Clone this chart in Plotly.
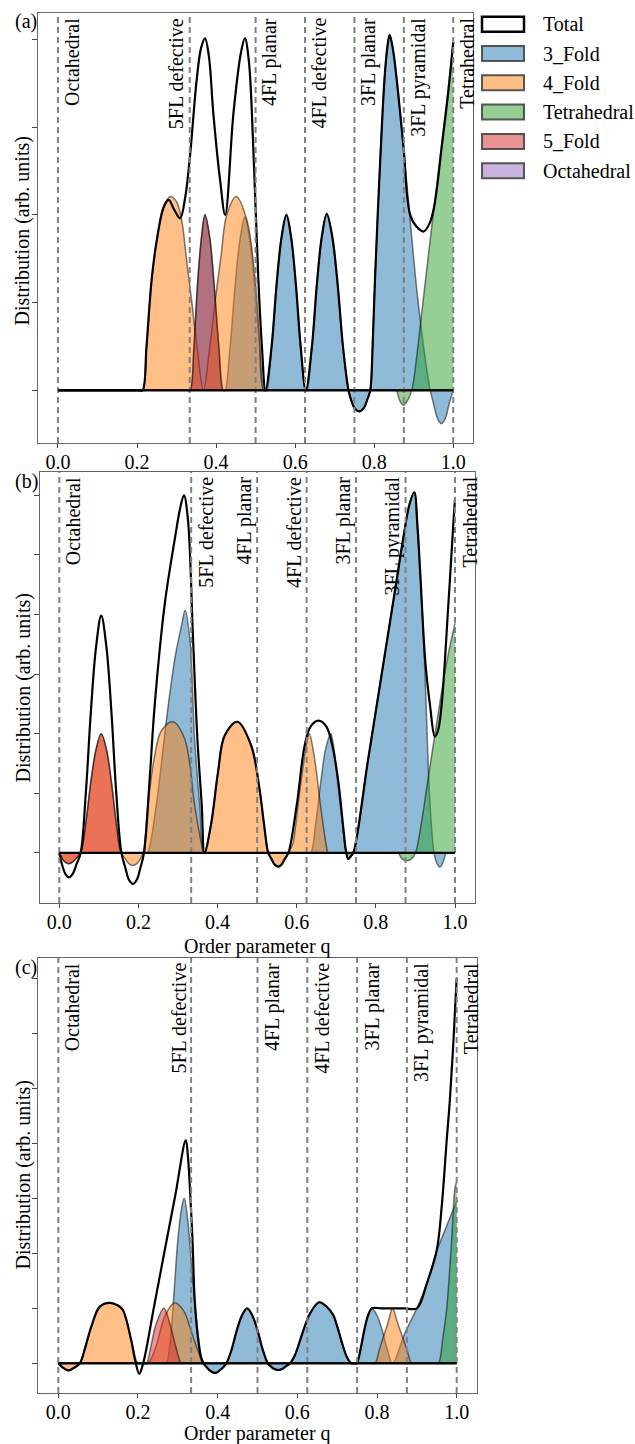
import plotly.graph_objects as go

W, H = 635, 1444
FONT = "Liberation Serif, Times New Roman, serif"

# ------------------------------------------------------------------ data
x_ticks = [0.0, 0.2, 0.4, 0.6, 0.8, 1.0]
x_tick_labels = ["0.0", "0.2", "0.4", "0.6", "0.8", "1.0"]
region_q = [0.0, 1 / 3, 0.5, 0.625, 0.75, 0.875, 1.0]
region_labels = ["Octahedral", "5FL defective", "4FL planar", "4FL defective",
                 "3FL planar", "3FL pyramidal", "Tetrahedral"]
region_side_a = ["r", "l", "r", "r", "r", "r", "r"]
region_side_b = ["r", "r", "l", "l", "l", "l", "r"]
region_side_c = ["r", "l", "r", "r", "r", "r", "r"]

series_names = ["3_Fold", "4_Fold", "Tetrahedral", "5_Fold", "Octahedral"]
legend_names = ["Total", "3_Fold", "4_Fold", "Tetrahedral", "5_Fold", "Octahedral"]
series_colors = ["#1f77b4", "#ff7f0e", "#2ca02c", "#d62728", "#9467bd"]

# ---------------- panel (a)
a_q_total = [0.0, 0.205, 0.214, 0.224, 0.237, 0.250, 0.267, 0.280, 0.295, 0.309,
             0.322, 0.334, 0.351, 0.362, 0.372, 0.382, 0.393, 0.410, 0.423, 0.444,
             0.463, 0.473, 0.483, 0.494, 0.507, 0.516, 0.525,
             0.5405, 0.553, 0.5655, 0.578, 0.590, 0.602, 0.614, 0.627,
             0.6425, 0.655, 0.6675, 0.680, 0.694, 0.7075, 0.721, 0.735,
             0.741, 0.750, 0.762, 0.774, 0.783, 0.790,
             0.796, 0.802, 0.813, 0.826, 0.833, 0.839, 0.847, 0.857, 0.874, 0.891,
             0.908, 0.925, 0.940, 0.952, 0.971, 0.988, 1.0]
a_total = [0, 0, 0, 0.5, 1.26, 1.71, 2.08, 2.17, 2.05, 1.96,
           2.2, 2.67, 3.54, 3.9, 4.01, 3.8, 3.16, 2.4, 2.0, 3.16,
           3.85, 4.01, 3.75, 2.78, 1.26, 0.5, 0,
           0.5, 1.2, 1.74, 2.0, 1.74, 1.2, 0.5, 0,
           0.5, 1.21, 1.75, 2.01, 1.75, 1.21, 0.5, 0,
           -0.1, -0.2, -0.24, -0.2, -0.1, 0,
           0.5, 1.26, 2.4, 3.54, 3.9, 4.05, 3.9, 3.54, 2.78, 2.0,
           1.86, 1.81, 1.9, 2.1, 2.78, 3.42, 3.97]
a_q_3fold = [0.0, 0.326,
             0.334, 0.344, 0.353, 0.363, 0.372, 0.384, 0.395, 0.407, 0.418, 0.420,
             0.423, 0.4355, 0.448, 0.4605, 0.473, 0.485, 0.4975, 0.510, 0.522, 0.525,
             0.528, 0.5405, 0.553, 0.5655, 0.578, 0.590, 0.602, 0.614, 0.626, 0.628,
             0.630, 0.6425, 0.655, 0.6675, 0.680, 0.694, 0.7075, 0.721, 0.735,
             0.741, 0.750, 0.762, 0.774, 0.783, 0.790,
             0.796, 0.802, 0.813, 0.826, 0.833, 0.839, 0.847, 0.857, 0.874, 0.891,
             0.908, 0.925, 0.935, 0.942,
             0.950, 0.960, 0.970, 0.980, 0.990, 1.0]
a_3fold = [0, 0,
           0, 0.5, 1.2, 1.74, 2.0, 1.74, 1.2, 0.5, 0, 0,
           0, 0.5, 1.19, 1.72, 1.98, 1.72, 1.19, 0.5, 0, 0,
           0, 0.5, 1.2, 1.74, 2.0, 1.74, 1.2, 0.5, 0, 0,
           0, 0.5, 1.21, 1.75, 2.01, 1.75, 1.21, 0.5, 0,
           -0.1, -0.2, -0.24, -0.2, -0.1, 0,
           0.5, 1.26, 2.4, 3.54, 3.9, 4.05, 3.9, 3.54, 2.78, 1.94,
           1.14, 0.5, 0.18, 0,
           -0.15, -0.32, -0.38, -0.32, -0.15, 0]
a_q_4fold = [0.0, 0.205, 0.214, 0.224, 0.237, 0.250, 0.267, 0.285, 0.300, 0.313,
             0.325, 0.338, 0.353, 0.368, 0.383, 0.398, 0.413, 0.427, 0.451, 0.478,
             0.499, 0.510, 0.520, 0.530, 1.0]
a_4fold = [0, 0, 0, 0.5, 1.26, 1.71, 2.1, 2.21, 2.15, 1.94,
           1.5, 1.03, 0.45, 0, 0.45, 1.03, 1.55, 2.0, 2.21, 1.94,
           1.26, 0.6, 0, 0, 0]
a_q_tetra = [0.0, 0.845, 0.855, 0.865, 0.874, 0.884, 0.895, 0.908, 0.922, 0.944,
             0.967, 0.988, 1.0]
a_tetra = [0, 0, 0, -0.12, -0.17, -0.12, 0, 0.4, 0.95, 1.8,
           2.66, 3.46, 3.97]
a_q_5fold = [0.0, 0.326, 0.334, 0.344, 0.353, 0.363, 0.372, 0.384, 0.395, 0.407,
             0.418, 0.425, 1.0]
a_5fold = [0, 0, 0, 0.5, 1.2, 1.74, 2.0, 1.74, 1.2, 0.5,
           0, 0, 0]
a_q_octa = [0.0, 1.0]
a_octa = [0, 0]

# ---------------- panel (b)
b_q_total = [0.0, 0.008, 0.016, 0.024, 0.034, 0.044, 0.054,
             0.067, 0.080, 0.093, 0.106, 0.119, 0.1315, 0.144, 0.157,
             0.167, 0.176, 0.186, 0.196, 0.205, 0.214,
             0.228, 0.241, 0.266, 0.292, 0.306, 0.315, 0.325, 0.338, 0.349, 0.360, 0.367,
             0.384, 0.401, 0.418, 0.450, 0.485, 0.506, 0.518, 0.528,
             0.536, 0.545, 0.553, 0.561, 0.570, 0.579,
             0.600, 0.620, 0.635, 0.655, 0.675, 0.690, 0.705, 0.718, 0.724, 0.730, 0.737, 0.743,
             0.780, 0.820, 0.850, 0.869, 0.885, 0.897, 0.905, 0.912, 0.925, 0.937,
             0.949, 0.957, 0.966, 0.983, 0.996, 1.0]
b_total = [0, -0.22, -0.36, -0.41, -0.35, -0.18, 0,
           1.0, 2.39, 3.46, 3.98, 3.46, 2.39, 1.0, 0,
           -0.25, -0.45, -0.52, -0.45, -0.25, 0,
           1.2, 2.47, 4.15, 5.27, 5.8, 6.0, 5.6, 3.59, 1.91, 0.8, 0,
           0.5, 1.35, 1.97, 2.2, 1.8, 1.07, 0.45, 0,
           -0.1, -0.2, -0.23, -0.2, -0.1, 0,
           0.8, 1.8, 2.12, 2.22, 2.12, 1.8, 1.2, 0.4, 0.05, -0.1, -0.05, 0,
           1.55, 3.22, 4.47, 5.27, 5.85, 6.05, 5.5, 4.71, 3.2, 2.47,
           1.95, 2.05, 2.47, 4.15, 5.55, 5.94]
b_q_3fold = [0.0, 0.215, 0.222, 0.245, 0.258, 0.270, 0.292, 0.309, 0.318, 0.330,
             0.342, 0.355, 0.366, 0.375,
             0.625, 0.635, 0.648, 0.661, 0.673, 0.686, 0.694, 0.701, 0.710, 0.718,
             0.724, 0.730, 0.737, 0.743,
             0.780, 0.820, 0.850, 0.869, 0.885, 0.897, 0.905, 0.912, 0.924, 0.933,
             0.940, 0.947,
             0.954, 0.962, 0.970, 0.979, 0.988, 1.0]
b_3fold = [0, 0, 0, 0.8, 1.5, 2.19, 3.26, 3.82, 4.07, 3.59,
           1.91, 0.8, 0, 0,
           0, 0, 0.5, 1.2, 1.74, 2.0, 1.75, 1.35, 0.8, 0.35,
           0.05, -0.1, -0.05, 0,
           1.55, 3.22, 4.47, 5.27, 5.85, 6.05, 5.4, 4.71, 3.03, 1.35,
           0.5, 0,
           -0.17, -0.24, -0.15, 0, 0, 0]
b_q_4fold = [0.0, 0.008, 0.016, 0.024, 0.034, 0.044, 0.054,
             0.067, 0.080, 0.093, 0.106, 0.119, 0.1315, 0.144, 0.157,
             0.167, 0.176, 0.186, 0.196, 0.205, 0.212,
             0.224, 0.241, 0.258, 0.287, 0.317, 0.342, 0.355, 0.366,
             0.384, 0.401, 0.418, 0.450, 0.485, 0.506, 0.518, 0.528,
             0.536, 0.545, 0.553, 0.561, 0.570, 0.579,
             0.590, 0.598, 0.607, 0.615, 0.624, 0.632, 0.641, 0.650, 0.659, 0.667,
             0.674, 0.680, 0.690, 1.0]
b_4fold = [0, -0.1, -0.16, -0.18, -0.15, -0.08, 0,
           0.5, 1.2, 1.74, 2.0, 1.74, 1.2, 0.5, 0,
           -0.1, -0.18, -0.21, -0.18, -0.1, 0,
           0.8, 1.63, 2.05, 2.2, 1.91, 0.8, 0.3, 0,
           0.5, 1.35, 1.97, 2.2, 1.8, 1.07, 0.45, 0,
           -0.1, -0.2, -0.23, -0.2, -0.1, 0,
           0.15, 0.5, 1.0, 1.4, 1.8, 2.0, 1.75, 1.35, 0.85, 0.46,
           0.15, 0, 0, 0]
b_q_tetra = [0.0, 0.846, 0.856, 0.866, 0.878, 0.890, 0.900, 0.915, 0.928, 0.954,
             0.979, 1.0]
b_tetra = [0, 0, 0, -0.1, -0.13, -0.1, 0, 0.5, 1.07, 2.19,
           3.2, 3.85]
b_q_5fold = [0.0, 0.008, 0.016, 0.024, 0.034, 0.044, 0.054,
             0.067, 0.080, 0.093, 0.106, 0.119, 0.1315, 0.144, 0.157, 0.167, 1.0]
b_5fold = [0, -0.1, -0.16, -0.18, -0.15, -0.08, 0,
           0.5, 1.2, 1.74, 2.0, 1.74, 1.2, 0.5, 0, 0, 0]
b_q_octa = [0.0, 1.0]
b_octa = [0, 0]

# ---------------- panel (c)
c_q_total = [0.0, 0.010, 0.026, 0.040, 0.054, 0.068, 0.083, 0.104, 0.129, 0.150,
             0.162, 0.183, 0.193, 0.203, 0.213, 0.240, 0.267, 0.294, 0.320, 0.326,
             0.331, 0.337, 0.342, 0.350, 0.358, 0.365,
             0.372, 0.380, 0.389, 0.397, 0.405, 0.414, 0.422,
             0.435, 0.448, 0.461, 0.474, 0.487, 0.500, 0.513, 0.526,
             0.534, 0.541, 0.549, 0.556, 0.563, 0.570, 0.582,
             0.594, 0.607, 0.620, 0.632, 0.655, 0.675, 0.690, 0.701, 0.711, 0.724,
             0.736, 0.743, 0.749,
             0.7585, 0.768, 0.7775, 0.787, 0.810, 0.840, 0.870, 0.900,
             0.925, 0.950, 0.963, 0.975, 0.983, 0.992, 1.0]
c_total = [0, -0.07, -0.13, -0.08, 0, 0.3, 0.67, 1.03, 1.10, 1.05,
           0.97, 0.42, 0.05, -0.19, 0, 1.02, 2.05, 3.07, 4.06, 3.7,
           3.1, 2.2, 1.2, 0.5, 0.12, 0,
           -0.07, -0.13, -0.17, -0.17, -0.13, -0.07, 0,
           0.25, 0.6, 0.87, 1.0, 0.87, 0.6, 0.25, 0,
           -0.06, -0.1, -0.12, -0.12, -0.1, -0.06, 0,
           0.15, 0.42, 0.7, 0.91, 1.11, 1.02, 0.88, 0.65, 0.4, 0.12,
           0, 0, 0,
           0.25, 0.6, 0.87, 1.0, 1.0, 1.0, 1.0, 1.0,
           1.45, 2.06, 2.9, 4.06, 4.8, 5.88, 7.0]
c_q_3fold = [0.0, 0.262, 0.271, 0.280, 0.288, 0.300, 0.309, 0.316, 0.325, 0.333,
             0.342, 0.353, 0.363,
             0.372, 0.380, 0.389, 0.397, 0.405, 0.414, 0.422,
             0.435, 0.448, 0.461, 0.474, 0.487, 0.500, 0.513, 0.526,
             0.534, 0.541, 0.549, 0.556, 0.563, 0.570, 0.582,
             0.594, 0.607, 0.620, 0.632, 0.655, 0.675, 0.690, 0.701, 0.711, 0.724,
             0.736, 0.743, 0.749,
             0.7585, 0.768, 0.7775, 0.787, 0.800, 0.813, 0.826, 0.839,
             0.870, 0.900, 0.925, 0.950, 0.975, 1.0]
c_3fold = [0, 0, 0, 0.35, 1.03, 2.24, 2.8, 3.0, 2.6, 1.9,
           1.15, 0.4, 0,
           -0.07, -0.13, -0.17, -0.17, -0.13, -0.07, 0,
           0.25, 0.6, 0.87, 1.0, 0.87, 0.6, 0.25, 0,
           -0.06, -0.1, -0.12, -0.12, -0.1, -0.06, 0,
           0.15, 0.42, 0.7, 0.91, 1.11, 1.02, 0.88, 0.65, 0.4, 0.12,
           0, 0, 0,
           0.25, 0.6, 0.87, 1.0, 0.87, 0.6, 0.25, 0,
           0.55, 1.0, 1.45, 2.04, 2.5, 2.95]
c_q_4fold = [0.0, 0.010, 0.026, 0.040, 0.054, 0.068, 0.083, 0.104, 0.129, 0.150,
             0.162, 0.183, 0.200, 0.212, 0.225, 0.245, 0.267, 0.292, 0.315, 0.335,
             0.352, 0.363, 0.372, 0.785, 0.795, 0.806, 0.817, 0.828, 0.839, 0.851,
             0.863, 0.875, 0.887, 0.897, 1.0]
c_4fold = [0, -0.07, -0.13, -0.08, 0, 0.3, 0.67, 1.03, 1.10, 1.05,
           0.97, 0.42, 0, 0, 0, 0.3, 0.85, 1.10, 0.95, 0.55,
           0.2, 0, 0, 0, 0, 0.25, 0.5, 0.75, 1.0, 0.75,
           0.5, 0.25, 0, 0, 0]
c_q_tetra = [0.0, 0.944, 0.954, 0.965, 0.975, 0.987, 0.996, 1.0]
c_tetra = [0, 0, 0, 0.45, 1.0, 2.2, 3.2, 3.3]
c_q_5fold = [0.0, 0.212, 0.221, 0.232, 0.245, 0.265, 0.280, 0.295, 0.309, 0.318, 1.0]
c_5fold = [0, 0, 0, 0.3, 0.7, 1.0, 0.72, 0.3, 0, 0, 0]
c_q_octa = [0.0, 1.0]
c_octa = [0, 0]

# y-axis tick positions and ranges (arb. units)
a_yticks = [0, 1, 2, 3, 4]
b_yticks = [0, 1, 2, 3, 4, 5, 6]
c_yticks = [0, 1, 2, 3, 4, 5, 6, 7]
a_yrange = [-0.60, 4.30]
b_yrange = [-0.84, 6.39]
c_yrange = [-0.54, 7.37]

# ------------------------------------------------------------------ layout geometry (pixels)
panels = [
    dict(tag="(a)", box=(38.2, 473.0, 13, 443), xtitle=None, yr=a_yrange, yt=a_yticks,
         side=region_side_a, ytc=231,
         total=(a_q_total, a_total),
         series=[(a_q_3fold, a_3fold), (a_q_4fold, a_4fold), (a_q_tetra, a_tetra),
                 (a_q_5fold, a_5fold), (a_q_octa, a_octa)]),
    dict(tag="(b)", box=(39.5, 474.8, 472, 903), xtitle=946, yr=b_yrange, yt=b_yticks,
         side=region_side_b, ytc=688,
         total=(b_q_total, b_total),
         series=[(b_q_3fold, b_3fold), (b_q_4fold, b_4fold), (b_q_tetra, b_tetra),
                 (b_q_5fold, b_5fold), (b_q_octa, b_octa)]),
    dict(tag="(c)", box=(38.4, 476.6, 958, 1393), xtitle=1433, yr=c_yrange, yt=c_yticks,
         side=region_side_c, ytc=1175,
         total=(c_q_total, c_total),
         series=[(c_q_3fold, c_3fold), (c_q_4fold, c_4fold), (c_q_tetra, c_tetra),
                 (c_q_5fold, c_5fold), (c_q_octa, c_octa)]),
]

for p in panels:
    for q, v in [p["total"]] + p["series"]:
        assert len(q) == len(v), (p["tag"], len(q), len(v))


def px_x(px):
    return px / W


def px_y(py):
    return 1 - py / H


def rgba(hexc, a):
    h = hexc.lstrip("#")
    r, g, b = int(h[0:2], 16), int(h[2:4], 16), int(h[4:6], 16)
    return f"rgba({r},{g},{b},{a})"


EDGE = "rgba(0,0,0,0.5)"
fig = go.Figure()
shapes = []
annotations = []
layout_axes = {}

for i, p in enumerate(panels):
    n = "" if i == 0 else str(i + 1)
    xa, ya = "x" + n, "y" + n
    x0, x1, top, bot = p["box"]
    for (q, v), col, nm in zip(p["series"], series_colors, series_names):
        fig.add_trace(go.Scatter(
            x=q, y=v, mode="lines", xaxis=xa, yaxis=ya, name=nm,
            line=dict(shape="spline", smoothing=1.0, color=EDGE, width=1.5),
            fill="tozeroy", fillcolor=rgba(col, 0.5),
            showlegend=False, hoverinfo="skip"))
    tq, tv = p["total"]
    fig.add_trace(go.Scatter(
        x=tq, y=tv, mode="lines", xaxis=xa, yaxis=ya, name="Total",
        line=dict(shape="spline", smoothing=1.0, color="black", width=2.2),
        showlegend=False, hoverinfo="skip"))

    layout_axes["xaxis" + n] = dict(
        domain=[px_x(x0), px_x(x1)], range=[-0.05, 1.05], anchor=ya,
        tickmode="array", tickvals=x_ticks, ticktext=x_tick_labels,
        ticks="outside", ticklen=4, tickwidth=1, tickcolor="#444",
        ticklabelstandoff=-3,
        showline=True, mirror=True, linecolor="#666", linewidth=1,
        showgrid=False, zeroline=False,
        tickfont=dict(family=FONT, size=20, color="black"))
    layout_axes["yaxis" + n] = dict(
        domain=[px_y(bot), px_y(top)], range=p["yr"], anchor=xa,
        tickmode="array", tickvals=p["yt"], showticklabels=False,
        ticks="outside", ticklen=5, tickwidth=1, tickcolor="#444",
        showline=True, mirror=True, linecolor="#666", linewidth=1,
        showgrid=False, zeroline=False)

    for q, lab, side in zip(region_q, region_labels, p["side"]):
        shapes.append(dict(type="line", xref=xa, yref=ya + " domain",
                           x0=q, x1=q, y0=0, y1=1, layer="above",
                           line=dict(color="rgba(128,128,128,1)", width=2, dash="6px,4px")))
        annotations.append(dict(
            x=q, xref=xa, y=1, yref=ya + " domain", text=lab, showarrow=False,
            textangle=-90, xanchor="left" if side == "r" else "right",
            yanchor="top", yshift=-3, xshift=1 if side == "r" else 0,
            font=dict(family=FONT, size=20, color="black")))
    shapes.append(dict(type="line", xref=xa, yref=ya, x0=min(tq), x1=max(tq), y0=0, y1=0,
                       layer="above", line=dict(color="black", width=2.2)))
    annotations.append(dict(x=px_x(26), y=px_y(top + 9), xref="paper", yref="paper",
                            text=p["tag"], showarrow=False, xanchor="center", yanchor="middle",
                            font=dict(family=FONT, size=20, color="black")))
    annotations.append(dict(x=px_x(22.5), y=px_y(p["ytc"]), xref="paper", yref="paper",
                            text="Distribution (arb. units)", showarrow=False, textangle=-90,
                            xanchor="center", yanchor="middle",
                            font=dict(family=FONT, size=20, color="black")))
    if p["xtitle"]:
        annotations.append(dict(x=px_x((x0 + x1) / 2), y=px_y(p["xtitle"]), xref="paper",
                                yref="paper", text="Order parameter q", showarrow=False,
                                xanchor="center", yanchor="middle",
                                font=dict(family=FONT, size=20, color="black")))

leg_fill = ["rgba(255,255,255,1)"] + [rgba(c, 0.5) for c in series_colors]
leg_edge = ["black"] + ["rgba(60,60,60,0.85)"] * len(series_colors)
for k, (name, fc, ec) in enumerate(zip(legend_names, leg_fill, leg_edge)):
    cy = 24.2 + k * 29.3
    shapes.append(dict(type="rect", xref="paper", yref="paper",
                       x0=px_x(482), x1=px_x(524), y0=px_y(cy + 7.5), y1=px_y(cy - 7.5),
                       fillcolor=fc, line=dict(color=ec, width=2.5 if k == 0 else 2)))
    annotations.append(dict(x=px_x(541), y=px_y(cy), xref="paper", yref="paper",
                            text=name, showarrow=False, xanchor="left", yanchor="middle",
                            font=dict(family=FONT, size=20, color="black")))

fig.update_layout(
    width=W, height=H, autosize=False,
    margin=dict(l=0, r=0, t=0, b=0),
    paper_bgcolor="white", plot_bgcolor="white",
    showlegend=False,
    font=dict(family=FONT, size=20, color="black"),
    shapes=shapes, annotations=annotations,
    **layout_axes)

fig.write_html("out.html", config={"displayModeBar": False},
               post_script="document.body.style.margin='0';")
